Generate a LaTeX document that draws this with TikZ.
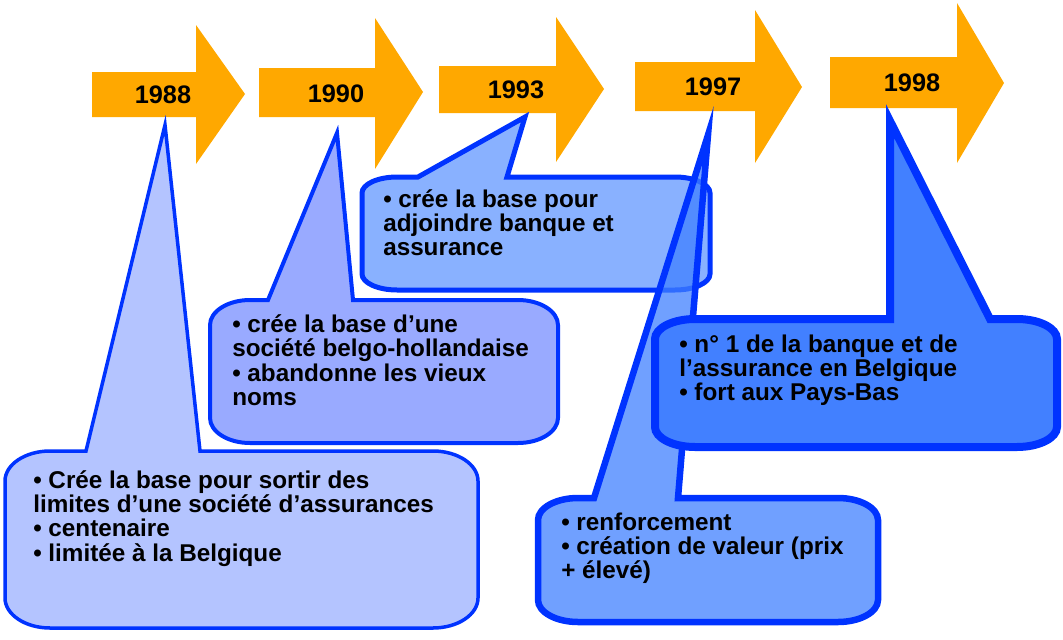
\documentclass[tikz,border=0pt]{standalone}
\usepackage{fontspec}
\setmainfont{Liberation Sans}
\definecolor{arroworange}{RGB}{255,168,0}
\definecolor{bubbleline}{RGB}{0,51,255}
\definecolor{fillA}{RGB}{180,196,255}
\definecolor{fillB}{RGB}{153,170,255}
\definecolor{fillC}{RGB}{137,177,255}
\definecolor{fillD}{RGB}{64,128,255}
\definecolor{fillE}{RGB}{66,128,255}
\tikzset{
  yeararrow/.style={fill=arroworange},
  yearlabel/.style={anchor=base, inner sep=0pt, font=\bfseries\fontsize{19}{19}\selectfont},
  bubble/.style={draw=bubbleline, line join=miter},
  bubbletext/.style={anchor=base west, inner sep=0pt, font=\bfseries\fontsize{18.2}{18}\selectfont}
}
\begin{document}
\begin{tikzpicture}[x=0.75pt,y=-0.75pt]
  \useasboundingbox (0,0) rectangle (1063,639);
  % year arrows
  \foreach \xa/\ya/\yb/\xh/\yu/\yd/\xt/\yt in {92/72/117/196/25/164/245/94, 259/68/117/375/18/169/423/92, 439/66/113/556/17/162/604/89, 635/62/111/755/10/163/802/87, 830/57/108/957/3/163/1004/83}
    \fill[yeararrow] (\xa,\ya) -- (\xh,\ya) -- (\xh,\yu) -- (\xt,\yt) -- (\xh,\yd) -- (\xh,\yb) -- (\xa,\yb) -- cycle;
  \foreach \yr/\x/\y in {1988/163/103, 1990/336/102, 1993/516/98, 1997/713/95, 1998/912/91}
    \node[yearlabel] (y\yr) at (\x,\y) {\yr};
  % callouts, drawn back to front
  \foreach \xl/\yt/\xr/\yb/\pl/\pr/\px/\py/\rx/\ry/\lw/\col/\op in {
      5/451/478/628/86/200/165/125/45/30/3.5/fillA/1,
      210/300/558/443/268/353/337/133/40/25/4/fillB/1,
      362/177/710/290/418/507/525/117/35/16/5/fillC/1,
      538/498/878/622/594/678/708/135/40/22/6.5/fillD/0.75,
      655/319/1057/447/890/990/890/121/40/20/8/fillE/1}
    \filldraw[bubble, line width=\lw*0.75pt, fill=\col, fill opacity=\op]
      ({\xl+\rx},\yt) -- (\pl,\yt) -- (\px,\py) -- (\pr,\yt) -- ({\xr-\rx},\yt)
      .. controls ({\xr-0.45*\rx},\yt) and (\xr,{\yt+0.45*\ry}) .. (\xr,{\yt+\ry})
      -- (\xr,{\yb-\ry})
      .. controls (\xr,{\yb-0.45*\ry}) and ({\xr-0.45*\rx},\yb) .. ({\xr-\rx},\yb)
      -- ({\xl+\rx},\yb)
      .. controls ({\xl+0.45*\rx},\yb) and (\xl,{\yb-0.45*\ry}) .. (\xl,{\yb-\ry})
      -- (\xl,{\yt+\ry})
      .. controls (\xl,{\yt+0.45*\ry}) and ({\xl+0.45*\rx},\yt) .. ({\xl+\rx},\yt) -- cycle;
  % callout texts
  \foreach \txt [count=\i] in {• Crée la base pour sortir des, limites d’une société d’assurances, • centenaire, • limitée à la Belgique}
    \node[bubbletext] (t88-\i) at (33,{488+(\i-1)*24.4}) {\txt};
  \foreach \txt [count=\i] in {• crée la base d’une, société belgo-hollandaise, • abandonne les vieux, noms}
    \node[bubbletext] (t90-\i) at (232,{332+(\i-1)*24.6}) {\txt};
  \foreach \txt [count=\i] in {• crée la base pour, adjoindre banque et, assurance}
    \node[bubbletext] (t93-\i) at (383,{207+(\i-1)*24.2}) {\txt};
  \foreach \txt [count=\i] in {• renforcement, • création de valeur (prix, + élevé)}
    \node[bubbletext] (t97-\i) at (561,{530+(\i-1)*24.4}) {\txt};
  \foreach \txt [count=\i] in {• n° 1 de la banque et de, l’assurance en Belgique, • fort aux Pays-Bas}
    \node[bubbletext] (t98-\i) at (679,{352+(\i-1)*24.2}) {\txt};
\end{tikzpicture}
\end{document}
